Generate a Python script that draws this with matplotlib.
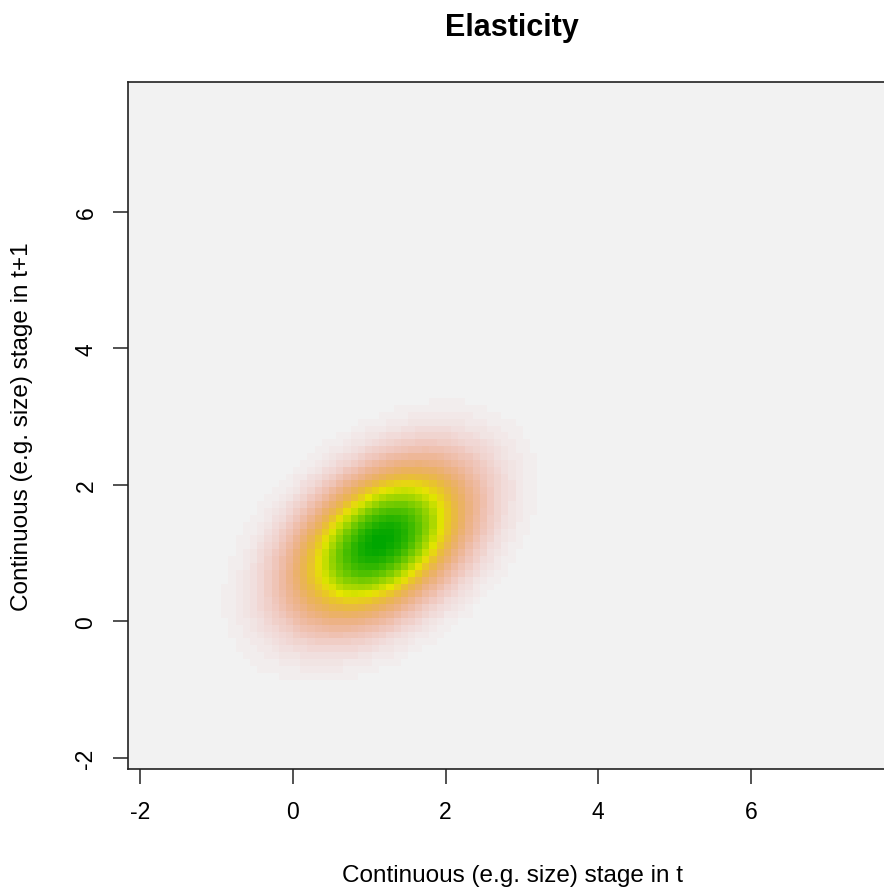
import colorsys
import numpy as np
import matplotlib
matplotlib.use("Agg")
import matplotlib.pyplot as plt
from matplotlib.colors import ListedColormap

# Mesh of size classes (stage in t on x, stage in t+1 on y)
x_edges = np.linspace(-2.16, 7.90, 108)
y_edges = np.linspace(-2.16, 7.90, 101)

# Elasticity surface: a tilted bump concentrated around the dominant size class
peak_centre = (1.15, 1.17)
peak_sd = (0.68, 0.68)
peak_corr = 0.42

x_ticks = [-2, 0, 2, 4, 6]
y_ticks = [-2, 0, 2, 4, 6]

title = "Elasticity"
x_label = "Continuous (e.g. size) stage in t"
y_label = "Continuous (e.g. size) stage in t+1"


def terrain_colors(n):
    """R's terrain.colors(n)."""
    k = n // 2
    h = [4 / 12, 2 / 12, 0 / 12]
    s = [1, 1, 0]
    v = [0.65, 0.9, 0.95]
    cols = []
    hs, ss, vs = (np.linspace(h[0], h[1], k), np.linspace(s[0], s[1], k),
                  np.linspace(v[0], v[1], k))
    cols += [colorsys.hsv_to_rgb(a, b, c) for a, b, c in zip(hs, ss, vs)]
    m = n - k + 1
    hs, ss, vs = (np.linspace(h[1], h[2], m)[1:], np.linspace(s[1], s[2], m)[1:],
                  np.linspace(v[1], v[2], m)[1:])
    cols += [colorsys.hsv_to_rgb(a, b, c) for a, b, c in zip(hs, ss, vs)]
    return cols


cmap = ListedColormap(terrain_colors(100)[::-1])

xc = 0.5 * (x_edges[:-1] + x_edges[1:])
yc = 0.5 * (y_edges[:-1] + y_edges[1:])
X, Y = np.meshgrid(xc, yc)
dx = (X - peak_centre[0]) / peak_sd[0]
dy = (Y - peak_centre[1]) / peak_sd[1]
q = (dx ** 2 - 2 * peak_corr * dx * dy + dy ** 2) / (1 - peak_corr ** 2)
Z = np.exp(-0.5 * q)
Z = Z / Z.sum()

plt.rcParams["font.family"] = ["Liberation Sans", "DejaVu Sans"]

W, H = 884, 895
fig = plt.figure(figsize=(W / 100, H / 100), dpi=100)
left, right, top, bottom = 128, 896, 83, 770
ax = fig.add_axes([left / W, 1 - bottom / H, (right - left) / W, (bottom - top) / H])

ax.pcolormesh(x_edges, y_edges, Z, cmap=cmap, shading="flat",
              vmin=Z.min(), vmax=Z.max(), rasterized=True)
ax.set_xlim(x_edges[0], x_edges[-1])
ax.set_ylim(y_edges[0], y_edges[-1])

ax.set_xticks(x_ticks)
ax.set_yticks(y_ticks)
ax.set_xticklabels([str(t) for t in x_ticks])
ax.set_yticklabels([str(t) for t in y_ticks], rotation=90, va="center")
ax.tick_params(direction="out", length=11, width=1.1, labelsize=16.5,
               pad=11, color="#222222")
for sp in ax.spines.values():
    sp.set_linewidth(1.2)
    sp.set_color("#222222")

ax.set_title(title, fontsize=22, fontweight="bold", pad=34)
ax.set_xlabel(x_label, fontsize=17.5, labelpad=30)
ax.set_ylabel(y_label, fontsize=17.5, labelpad=30)

fig.savefig("out.png", dpi=100)
